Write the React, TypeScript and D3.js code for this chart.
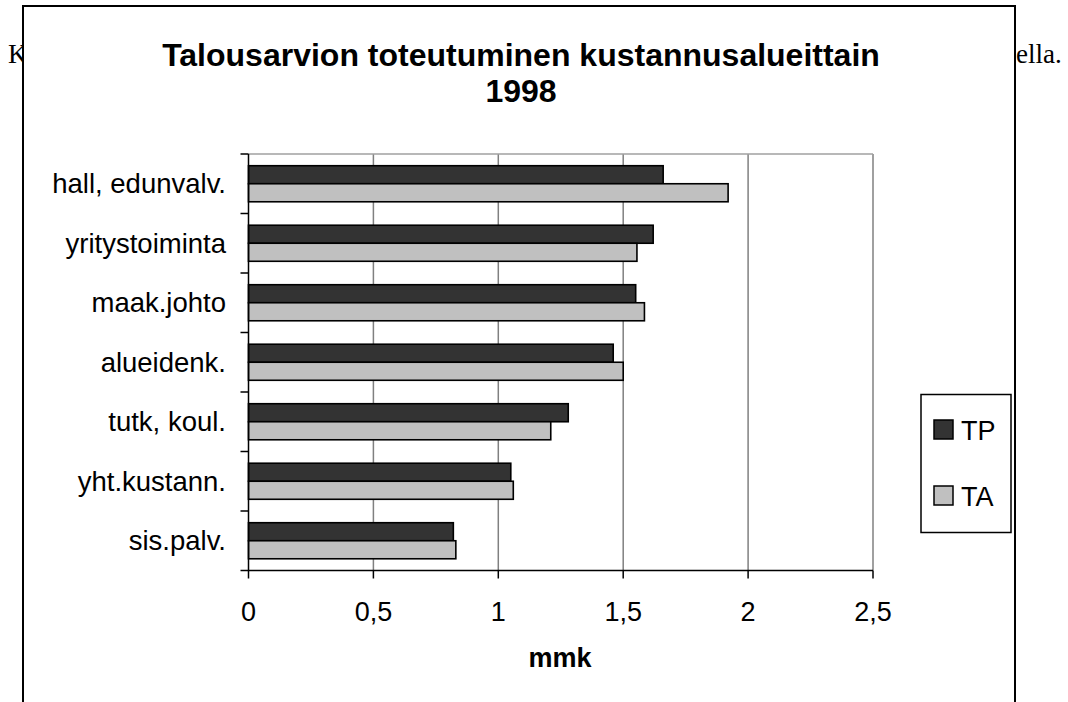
import React from "react";
import * as d3 from "d3";

const categories = ["hall, edunvalv.", "yritystoiminta", "maak.johto", "alueidenk.", "tutk, koul.", "yht.kustann.", "sis.palv."];
const seriesNames = ["TP", "TA"];
const tpValues = [1.66, 1.62, 1.55, 1.46, 1.28, 1.05, 0.82];
const taValues = [1.92, 1.555, 1.585, 1.5, 1.21, 1.06, 0.83];
const xTicks = [0, 0.5, 1, 1.5, 2, 2.5];
const seriesColors = ["#333333", "#c0c0c0"];
const titleLines = ["Talousarvion toteutuminen kustannusalueittain", "1998"];
const xAxisTitle = "mmk";

export default function App() {
  const W = 1068, H = 702;
  const left = 248.5, right = 873, top = 154, bottom = 570.5;
  const x = d3.scaleLinear().domain([0, 2.5]).range([left, right]);
  const y = d3.scaleBand<string>().domain(categories).range([top, bottom]).paddingInner(0.394).paddingOuter(0.197);
  const ys = d3.scaleBand<string>().domain(seriesNames).range([0, y.bandwidth()]);
  const step = (bottom - top) / categories.length;
  const font = "'Liberation Sans', Arial, sans-serif";
  const fmt = (v: number) => String(v).replace(".", ",");
  const values = [tpValues, taValues];
  return (
    <svg width={W} height={H} style={{ position: "absolute", left: 0, top: 0 }} fontFamily={font}>
      <rect x={0} y={0} width={W} height={H} fill="#fff" />
      <text x={8} y={63} fontFamily="'Liberation Serif', 'Times New Roman', serif" fontSize={27} fill="#000">K</text>
      <text x={1016} y={63} fontFamily="'Liberation Serif', 'Times New Roman', serif" fontSize={27} fill="#000">ella.</text>
      <rect x={23} y={6} width={992} height={720} fill="#fff" stroke="#000" strokeWidth={2} />
      <text x={521} y={66} textAnchor="middle" fontSize={32} fontWeight="bold">{titleLines[0]}</text>
      <text x={521} y={102} textAnchor="middle" fontSize={32} fontWeight="bold">{titleLines[1]}</text>
      {/* gridlines */}
      {xTicks.slice(1).map(t => (
        <line key={"g" + t} x1={x(t)} x2={x(t)} y1={top} y2={bottom} stroke="#808080" strokeWidth={1.5} />
      ))}
      <line x1={left} x2={right} y1={top} y2={top} stroke="#a0a0a0" strokeWidth={1.5} />
      {/* bars */}
      {categories.map((c, i) => (
        <g key={c}>
          {seriesNames.map((s, j) => (
            <rect key={s} x={x(0)} y={(y(c) as number) + (ys(s) as number)} width={x(values[j][i]) - x(0)} height={ys.bandwidth()}
              fill={seriesColors[j]} stroke="#000" strokeWidth={1.6} />
          ))}
        </g>
      ))}
      {/* axes */}
      <line x1={left} x2={left} y1={top} y2={bottom} stroke="#000" strokeWidth={1.5} />
      <line x1={left - 8} x2={right} y1={bottom} y2={bottom} stroke="#000" strokeWidth={1.5} />
      {d3.range(categories.length).map(i => (
        <line key={"yt" + i} x1={left - 8} x2={left} y1={top + i * step} y2={top + i * step} stroke="#000" strokeWidth={1.5} />
      ))}
      {xTicks.map(t => (
        <g key={"xt" + t}>
          <line x1={x(t)} x2={x(t)} y1={bottom} y2={bottom + 8} stroke="#000" strokeWidth={1.5} />
          <text x={x(t)} y={620.5} textAnchor="middle" fontSize={27}>{fmt(t)}</text>
        </g>
      ))}
      {categories.map(c => (
        <text key={"l" + c} x={226} y={(y(c) as number) + y.bandwidth() / 2 + 9.5} textAnchor="end" fontSize={27.5}>{c}</text>
      ))}
      <text x={560} y={667} textAnchor="middle" fontSize={27} fontWeight="bold">{xAxisTitle}</text>
      {/* legend */}
      <rect x={921} y={394.5} width={90} height={138} fill="#fff" stroke="#000" strokeWidth={1.5} />
      {seriesNames.map((s, j) => (
        <g key={"lg" + s}>
          <rect x={934} y={420 + j * 66} width={19} height={19} fill={seriesColors[j]} stroke="#000" strokeWidth={1.5} />
          <text x={961} y={439.5 + j * 66} fontSize={27}>{s}</text>
        </g>
      ))}
    </svg>
  );
}
